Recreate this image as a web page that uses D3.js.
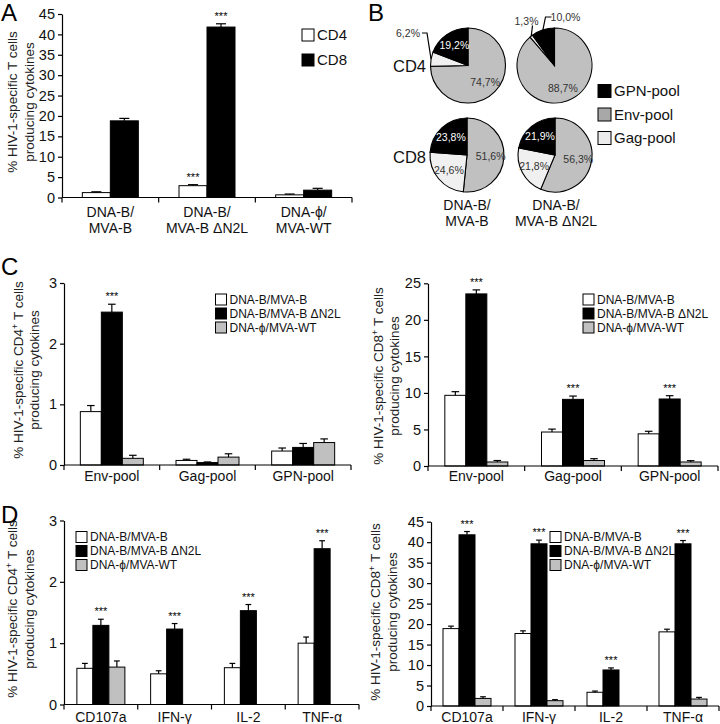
<!DOCTYPE html>
<html>
<head>
<meta charset="utf-8">
<script src="https://cdn.jsdelivr.net/npm/d3@7"></script>
<style>
  body { margin: 0; background: #fff; }
  svg { display: block; font-family: "Liberation Sans", Arial, sans-serif; }
</style>
</head>
<body>
<svg id="fig" width="720" height="724"></svg>
<script>
// ---- data ----
const groupsA = [["DNA-B/", "MVA-B"], ["DNA-B/", "MVA-B \u0394N2L"], ["DNA-\u03d5/", "MVA-WT"]];
const cd4A = [1.2, 2.9, 0.65];
const cd4AErr = [0.2, 0.25, 0.2];
const cd8A = [18.8, 41.8, 1.8];
const cd8AErr = [0.6, 0.8, 0.45];

const pieNames = ["GPN-pool", "Env-pool", "Gag-pool"];
// slice order clockwise from 12 o'clock: Env, Gag, GPN
const pieCD4B = [74.7, 6.2, 19.2];
const pieCD4N2L = [88.7, 1.3, 10.0];
const pieCD8B = [51.6, 24.6, 23.8];
const pieCD8N2L = [56.3, 21.8, 21.9];
const pieGroups = [["DNA-B/", "MVA-B"], ["DNA-B/", "MVA-B \u0394N2L"]];

const vaccines = ["DNA-B/MVA-B", "DNA-B/MVA-B \u0394N2L", "DNA-\u03d5/MVA-WT"];
const pools = [["Env-pool"], ["Gag-pool"], ["GPN-pool"]];

const cd4PoolB = [0.88, 0.075, 0.23];
const cd4PoolBErr = [0.1, 0.02, 0.05];
const cd4PoolN2L = [2.52, 0.04, 0.29];
const cd4PoolN2LErr = [0.13, 0.01, 0.065];
const cd4PoolWT = [0.11, 0.13, 0.37];
const cd4PoolWTErr = [0.05, 0.055, 0.06];

const cd8PoolB = [9.67, 4.65, 4.4];
const cd8PoolBErr = [0.5, 0.4, 0.35];
const cd8PoolN2L = [23.55, 9.12, 9.17];
const cd8PoolN2LErr = [0.55, 0.45, 0.45];
const cd8PoolWT = [0.55, 0.75, 0.55];
const cd8PoolWTErr = [0.2, 0.25, 0.18];

const cytokines = [["CD107a"], ["IFN-\u03b3"], ["IL-2"], ["TNF-\u03b1"]];

const cd4CytB = [0.59, 0.5, 0.6, 1.0];
const cd4CytBErr = [0.08, 0.05, 0.07, 0.1];
const cd4CytN2L = [1.29, 1.23, 1.53, 2.54];
const cd4CytN2LErr = [0.1, 0.09, 0.1, 0.13];
const cd4CytWT = [0.61, 0, 0, 0];
const cd4CytWTErr = [0.1, 0, 0, 0];

const cd8CytB = [18.9, 17.7, 3.35, 18.1];
const cd8CytBErr = [0.6, 0.65, 0.3, 0.65];
const cd8CytN2L = [41.8, 39.6, 8.8, 39.6];
const cd8CytN2LErr = [0.8, 0.9, 0.5, 0.8];
const cd8CytWT = [1.85, 1.3, 0, 1.7];
const cd8CytWTErr = [0.4, 0.25, 0, 0.4];

const white = "#ffffff", black = "#000000", grey = "#c0c0c0";

const svg = d3.select("#fig");

function rotTitle(lines, xs, cy, sup) {
  lines.forEach((ln, i) => {
    const t = svg.append("text")
      .attr("transform", `translate(${xs[i]},${cy}) rotate(-90)`)
      .attr("text-anchor", "middle")
      .attr("dy", "0.35em")
      .style("font-size", "13.5px")
      .attr("fill", "#222");
    if (i === 0 && sup) {
      t.append("tspan").text(sup[0]);
      t.append("tspan").text("+").attr("dy", "-5").style("font-size", "9px");
      t.append("tspan").text(sup[1]).attr("dy", "5");
    } else {
      t.text(ln);
    }
  });
}

function legend(items, x, y0, gap, size, fontSize) {
  items.forEach((it, i) => {
    const cy = y0 + i * gap;
    svg.append("rect")
      .attr("x", x).attr("y", cy - size / 2)
      .attr("width", size).attr("height", size)
      .attr("fill", it.fill).attr("stroke", "#000").attr("stroke-width", 1);
    svg.append("text")
      .attr("x", x + size + 3).attr("y", cy).attr("dy", "0.36em")
      .style("font-size", fontSize + "px").attr("fill", "#111")
      .text(it.label);
  });
}

function barChart(o) {
  const g = svg.append("g");
  const x = d3.scaleBand().domain(d3.range(o.cats.length)).range([o.x0, o.x1]);
  const y = d3.scaleLinear().domain([0, o.max]).range([o.yBase, o.yTop]);
  const n = o.series.length;
  const pad = (x.bandwidth() / o.barW - n) / 2;
  const xs = d3.scaleBand().domain(d3.range(n)).range([0, x.bandwidth()])
    .paddingInner(0).paddingOuter(pad);

  // bars
  o.series.forEach((s, si) => {
    g.selectAll(null).data(s.vals).enter().append("rect")
      .attr("x", (d, i) => x(i) + xs(si))
      .attr("y", d => y(d))
      .attr("width", xs.bandwidth())
      .attr("height", d => o.yBase - y(d))
      .attr("fill", s.fill)
      .attr("stroke", d => d > 0 ? "#000" : "none")
      .attr("stroke-width", 1);
    // error bars
    const cap = xs.bandwidth() * 0.36;
    s.errs.forEach((e, i) => {
      if (!e) return;
      const cx = x(i) + xs(si) + xs.bandwidth() / 2;
      g.append("line").attr("x1", cx).attr("x2", cx)
        .attr("y1", y(s.vals[i])).attr("y2", y(s.vals[i] + e))
        .attr("stroke", "#000").attr("stroke-width", 1.2);
      g.append("line").attr("x1", cx - cap / 2).attr("x2", cx + cap / 2)
        .attr("y1", y(s.vals[i] + e)).attr("y2", y(s.vals[i] + e))
        .attr("stroke", "#000").attr("stroke-width", 1.2);
    });
  });

  // significance stars
  o.stars.forEach(([si, i]) => {
    const s = o.series[si];
    g.append("text")
      .attr("x", x(i) + xs(si) + xs.bandwidth() / 2)
      .attr("y", y(s.vals[i] + s.errs[i]) - 4)
      .attr("text-anchor", "middle")
      .style("font-size", "11px")
      .text("***");
  });

  // y axis
  const ya = g.append("g")
    .attr("transform", `translate(${o.x0},0)`)
    .call(d3.axisLeft(y).tickValues(d3.range(0, o.max + 1e-6, o.step))
      .tickSize(4).tickSizeOuter(0).tickPadding(3).tickFormat(d3.format("d")));
  ya.attr("font-family", null).attr("font-size", null);
  ya.selectAll("text").style("font-size", "14.5px").attr("fill", "#111");
  ya.selectAll("line, path").attr("stroke", "#000").attr("stroke-width", 1.2);

  // x axis with boundary ticks
  g.append("line").attr("x1", o.x0).attr("x2", o.x1)
    .attr("y1", o.yBase).attr("y2", o.yBase)
    .attr("stroke", "#000").attr("stroke-width", 1.2);
  const bounds = d3.range(o.cats.length).map(i => x(i)).concat([o.x1]);
  g.selectAll(null).data(bounds).enter().append("line")
    .attr("x1", d => d).attr("x2", d => d)
    .attr("y1", o.yBase).attr("y2", o.yBase + 5)
    .attr("stroke", "#000").attr("stroke-width", 1.2);

  // category labels
  o.cats.forEach((lines, i) => {
    lines.forEach((ln, li) => {
      g.append("text")
        .attr("x", x(i) + x.bandwidth() / 2)
        .attr("y", o.labelY[li])
        .attr("text-anchor", "middle")
        .style("font-size", o.labelSize + "px")
        .attr("fill", "#111")
        .text(ln);
    });
  });
}

function panelLetter(t, x, y) {
  svg.append("text").attr("x", x).attr("y", y)
    .style("font-size", "24px").attr("fill", "#000").text(t);
}

// ---- Panel A ----
panelLetter("A", 1, 21);
barChart({
  x0: 62, x1: 352, yBase: 197.5, yTop: 14, max: 45, step: 5, barW: 28,
  cats: groupsA, labelY: [217, 233], labelSize: 14,
  series: [
    { vals: cd4A, errs: cd4AErr, fill: white },
    { vals: cd8A, errs: cd8AErr, fill: black }
  ],
  stars: [[0, 1], [1, 1]]
});
rotTitle(["% HIV-1-specific T cells", "producing cytokines"], [12.5, 29], 102);
legend([{ label: "CD4", fill: white }, { label: "CD8", fill: black }], 302, 35, 25, 12, 15);

// ---- Panel B ----
panelLetter("B", 368, 21);
const pieFill = [grey, "#f0f0f0", black];
const pieLab = ["#333", "#333", "#fff"];
const fmtPct = v => d3.format(".1f")(v).replace(".", ",") + "%";

// callout layout for small slices (relative to pie centre)
const callouts = {
  cd4b: [{ slice: 1, tx: -60, ty: -32.5, path: [[-46, -32.5], [-41, -32.5]] }],
  cd4n: [
    { slice: 1, tx: -28, ty: -44.5, path: [[-22, -40]] },
    { slice: 2, tx: 11, ty: -48.5, path: [[-3, -48.5], [-9, -48.5]] }
  ]
};

function drawPie(cx, cy, r, vals, key) {
  const g = svg.append("g").attr("transform", `translate(${cx},${cy})`);
  const arcs = d3.pie().sort(null).value(d => d)(vals);
  const arc = d3.arc().innerRadius(0).outerRadius(r);
  g.selectAll(null).data(arcs).enter().append("path")
    .attr("d", arc)
    .attr("fill", (d, i) => pieFill[i])
    .attr("stroke", "#000").attr("stroke-width", 1.1);
  const lab = d3.arc().innerRadius(r * 0.64).outerRadius(r * 0.64);
  const co = callouts[key] || [];
  arcs.forEach((a, i) => {
    const c = co.find(q => q.slice === i);
    if (c) {
      const mid = (a.startAngle + a.endAngle) / 2;
      const edge = [Math.sin(mid) * r, -Math.cos(mid) * r];
      g.append("path")
        .attr("d", d3.line()(c.path.concat([edge])))
        .attr("fill", "none").attr("stroke", "#000").attr("stroke-width", 1.2);
      g.append("text").attr("x", c.tx).attr("y", c.ty).attr("dy", "0.35em")
        .attr("text-anchor", "middle").style("font-size", "10.5px").attr("fill", "#333")
        .text(fmtPct(vals[i]));
    } else {
      const p = lab.centroid(a);
      g.append("text").attr("x", p[0]).attr("y", p[1]).attr("dy", "0.35em")
        .attr("text-anchor", "middle").style("font-size", "10.5px").attr("fill", pieLab[i])
        .text(fmtPct(vals[i]));
    }
  });
}

drawPie(468, 65.5, 37.5, pieCD4B, "cd4b");
drawPie(554.5, 65.5, 37.5, pieCD4N2L, "cd4n");
drawPie(467, 155, 37, pieCD8B, "cd8b");
drawPie(555, 155, 37, pieCD8N2L, "cd8n");

svg.append("text").attr("x", 393).attr("y", 72).style("font-size", "16.5px").attr("fill", "#111").text("CD4");
svg.append("text").attr("x", 393).attr("y", 163).style("font-size", "16.5px").attr("fill", "#111").text("CD8");
[467, 556].forEach((cx, i) => {
  pieGroups[i].forEach((ln, li) => {
    svg.append("text").attr("x", cx).attr("y", [210, 226][li])
      .attr("text-anchor", "middle").style("font-size", "14px").attr("fill", "#111").text(ln);
  });
});
legend(pieNames.map((n, i) => ({ label: n, fill: [black, "#a8a8a8", "#ececec"][i] })),
  598, 91, 23.5, 13, 15);

// ---- Panel C ----
panelLetter("C", 1, 275);
const vacLegend = vaccines.map((v, i) => ({ label: v, fill: [white, black, grey][i] }));
barChart({
  x0: 64, x1: 351, yBase: 465, yTop: 283, max: 3, step: 1, barW: 21,
  cats: pools, labelY: [481], labelSize: 14,
  series: [
    { vals: cd4PoolB, errs: cd4PoolBErr, fill: white },
    { vals: cd4PoolN2L, errs: cd4PoolN2LErr, fill: black },
    { vals: cd4PoolWT, errs: cd4PoolWTErr, fill: grey }
  ],
  stars: [[1, 0]]
});
rotTitle(["", "producing cytokines"], [18, 34], 370, ["% HIV-1-specific CD4", " T cells"]);
legend(vacLegend, 215.5, 299.5, 14, 11, 12);

barChart({
  x0: 428, x1: 718, yBase: 466, yTop: 283.3, max: 25, step: 5, barW: 21,
  cats: pools, labelY: [481], labelSize: 14,
  series: [
    { vals: cd8PoolB, errs: cd8PoolBErr, fill: white },
    { vals: cd8PoolN2L, errs: cd8PoolN2LErr, fill: black },
    { vals: cd8PoolWT, errs: cd8PoolWTErr, fill: grey }
  ],
  stars: [[1, 0], [1, 1], [1, 2]]
});
rotTitle(["", "producing cytokines"], [378, 394], 376, ["% HIV-1-specific CD8", " T cells"]);
legend(vacLegend, 583, 299.5, 14, 11, 12);

// ---- Panel D ----
panelLetter("D", 1, 523);
barChart({
  x0: 64, x1: 359, yBase: 704.5, yTop: 520.5, max: 3, step: 1, barW: 16,
  cats: cytokines, labelY: [722], labelSize: 14,
  series: [
    { vals: cd4CytB, errs: cd4CytBErr, fill: white },
    { vals: cd4CytN2L, errs: cd4CytN2LErr, fill: black },
    { vals: cd4CytWT, errs: cd4CytWTErr, fill: grey }
  ],
  stars: [[1, 0], [1, 1], [1, 2], [1, 3]]
});
rotTitle(["", "producing cytokines"], [12.5, 29], 609, ["% HIV-1-specific CD4", " T cells"]);
legend(vacLegend, 76, 537, 14, 11, 12);

barChart({
  x0: 431, x1: 719, yBase: 706, yTop: 521.7, max: 45, step: 5, barW: 16,
  cats: cytokines, labelY: [722], labelSize: 14,
  series: [
    { vals: cd8CytB, errs: cd8CytBErr, fill: white },
    { vals: cd8CytN2L, errs: cd8CytN2LErr, fill: black },
    { vals: cd8CytWT, errs: cd8CytWTErr, fill: grey }
  ],
  stars: [[1, 0], [1, 1], [1, 2], [1, 3]]
});
rotTitle(["", "producing cytokines"], [375, 392], 612, ["% HIV-1-specific CD8", " T cells"]);
legend(vacLegend, 550, 537, 14, 11, 12);
</script>
</body>
</html>
